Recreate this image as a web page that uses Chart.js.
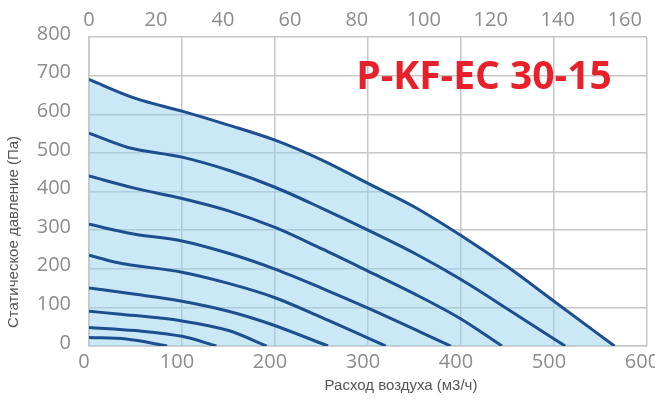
<!DOCTYPE html>
<html>
<head>
<meta charset="utf-8">
<script src="https://cdn.jsdelivr.net/npm/chart.js@4/dist/chart.umd.min.js"></script>
<style>
  html, body { margin: 0; padding: 0; background: #fff; }
  #wrap { width: 655px; height: 402px; }
</style>
</head>
<body>
<div id="wrap"><canvas id="fanChart" width="655" height="402"></canvas></div>
<script>
// fan curves: [air flow m3/h, static pressure Pa], from top speed down
const curve10 = [[0, 690], [50, 641], [100, 608], [150, 572], [200, 533], [250, 482], [300, 421], [350, 360], [400, 286], [450, 205], [500, 116], [565, 0]];
const curve9 = [[0, 551], [42, 514], [100, 489], [150, 455], [200, 411], [250, 357], [300, 300], [350, 240], [400, 172], [455, 88], [512, 0]];
const curve8 = [[0, 440], [50, 408], [100, 382], [150, 350], [200, 307], [250, 252], [300, 194], [350, 135], [400, 70], [444, 0]];
const curve7 = [[0, 315], [48, 290], [100, 272], [150, 240], [200, 199], [250, 150], [300, 98], [389, 0]];
const curve6 = [[0, 235], [30, 216], [100, 191], [150, 162], [200, 125], [250, 74], [319, 0]];
const curve5 = [[0, 150], [50, 134], [100, 116], [150, 90], [195, 57], [257, 0]];
const curve4 = [[0, 90], [31, 83], [100, 65], [150, 40], [191, 0]];
const curve3 = [[0, 48], [50, 40], [100, 25], [137, 0]];
const curve2 = [[0, 22], [40, 18], [84, 0]];

const curves = [curve10, curve9, curve8, curve7, curve6, curve5, curve4, curve3, curve2];

const flowTicks = [0, 100, 200, 300, 400, 500, 600];     // m3/h
const flowTicksLs = [0, 20, 40, 60, 80, 100, 120, 140, 160]; // l/s
const pressureTicks = [0, 100, 200, 300, 400, 500, 600, 700, 800];

const modelName = 'P-KF-EC 30-15';
const xTitle = 'Расход воздуха (м3/ч)';
const yTitle = 'Статическое давление (Па)';

const lineColor = '#1d4f8f';
const tickColor = '#8c8c8c';
const gridColor = '#c6c6c6';

const datasets = curves.map((c, i) => ({
    data: c.map(p => ({ x: p[0], y: p[1] })),
    showLine: true,
    borderColor: lineColor,
    borderWidth: 3,
    pointRadius: 0,
    cubicInterpolationMode: 'monotone',
    fill: i === 0 ? 'origin' : false,
    backgroundColor: 'rgba(150, 210, 238, 0.5)'
}));

const textPlugin = {
    id: 'texts',
    afterDraw(chart) {
        const ctx = chart.ctx;
        ctx.save();
        // model name
        ctx.fillStyle = '#e8202a';
        ctx.font = 'bold 39px "Open Sans"';
        ctx.textAlign = 'center';
        ctx.textBaseline = 'middle';
        ctx.fillText(modelName, 484, 78);
        // axis titles
        ctx.fillStyle = '#555';
        ctx.font = '15px "Liberation Sans"';
        ctx.fillText(xTitle, 401, 386);
        ctx.translate(14, 232);
        ctx.rotate(-Math.PI / 2);
        ctx.fillText(yTitle, 0, 0);
        ctx.restore();
    }
};

const tickFont = { family: 'Open Sans', size: 20 };
const noSidePad = a => { a.paddingLeft = 0; a.paddingRight = 0; };

new Chart(document.getElementById('fanChart'), {
    type: 'scatter',
    data: { datasets },
    options: {
        responsive: false,
        animation: false,
        layout: { padding: { left: 0, right: 8, top: 0, bottom: 0 } },
        plugins: {
            legend: { display: false },
            tooltip: { enabled: false },
            filler: { drawTime: 'beforeDatasetsDraw' }
        },
        scales: {
            x: {
                type: 'linear', position: 'bottom', min: 0, max: 600,
                afterBuildTicks: a => { a.ticks = flowTicks.map(v => ({ value: v })); },
                afterFit: a => { a.height = 56; noSidePad(a); },
                grid: { color: gridColor, lineWidth: 1.5, drawTicks: false },
                border: { color: gridColor, width: 1.5 },
                ticks: { color: tickColor, font: tickFont, padding: 4, labelOffset: -5, maxRotation: 0 }
            },
            x2: {
                type: 'linear', position: 'top', min: 0, max: 600 / 3.6,
                afterBuildTicks: a => { a.ticks = flowTicksLs.map(v => ({ value: v })); },
                afterFit: a => { a.height = 37; noSidePad(a); },
                grid: { display: false, drawTicks: false },
                border: { display: false },
                ticks: { color: tickColor, font: tickFont, padding: 5, maxRotation: 0 }
            },
            y: {
                min: 0, max: 800,
                afterBuildTicks: a => { a.ticks = pressureTicks.map(v => ({ value: v })); },
                afterFit: a => { a.width = 89; a.paddingTop = 0; a.paddingBottom = 0; },
                grid: { color: gridColor, lineWidth: 1.5, drawTicks: false },
                border: { color: gridColor, width: 1.5 },
                ticks: { color: tickColor, font: tickFont, padding: 18, labelOffset: -3 }
            }
        }
    },
    plugins: [textPlugin]
});
</script>
</body>
</html>
